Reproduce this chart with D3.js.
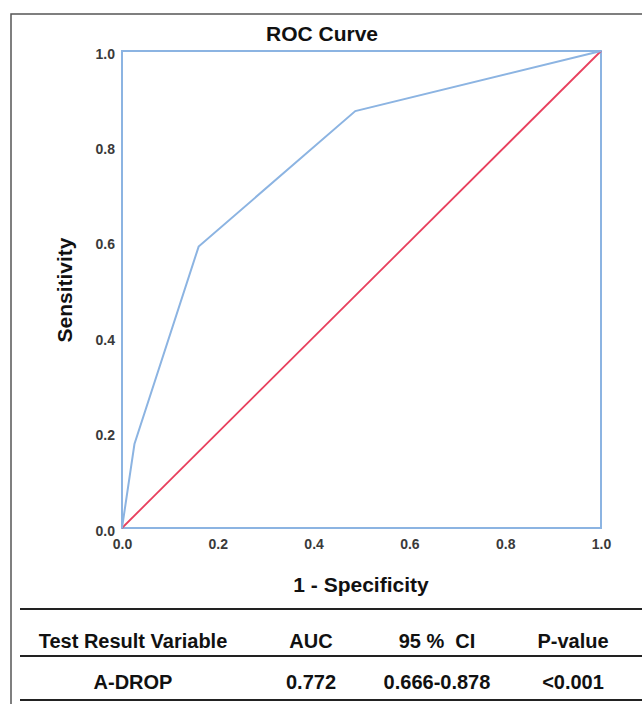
<!DOCTYPE html>
<html><head><meta charset="utf-8">
<script src="https://cdn.jsdelivr.net/npm/d3@7"></script>
<style>body{margin:0;background:#fff;}svg{display:block;font-family:"Liberation Sans",Arial,sans-serif;}</style>
</head><body>
<script>
const rocFPR = [0, 0.026, 0.16, 0.487, 1];
const rocTPR = [0, 0.176, 0.59, 0.874, 1];
const refLine = [0, 1];
const tickValues = [0, 0.2, 0.4, 0.6, 0.8, 1.0];
const tableHeaders = ["Test Result Variable", "AUC", "95 %  CI", "P-value"];
const tableRow = ["A-DROP", "0.772", "0.666-0.878", "<0.001"];

const W = 642, H = 704;
const svg = d3.select("body").append("svg").attr("width", W).attr("height", H);

// outer frame
svg.append("path").attr("d", `M11,${H} L11,14 L${W},14`).attr("fill","none").attr("stroke","#555").attr("stroke-width",1.5);

const x = d3.scaleLinear().domain([0,1]).range([122,601]);
const y = d3.scaleLinear().domain([0,1]).range([528,51]);
const blue = "#8cb4e2";

// frame of plot
svg.append("rect").attr("x",x(0)).attr("y",y(1)).attr("width",x(1)-x(0)).attr("height",y(0)-y(1))
  .attr("fill","none").attr("stroke",blue).attr("stroke-width",2);

// axes (labels only)
const xAxis = d3.axisBottom(x).tickValues(tickValues).tickFormat(d3.format(".1f")).tickSize(0).tickPadding(11);
const gx = svg.append("g").attr("transform",`translate(0,${y(0)})`).call(xAxis);
const yAxis = d3.axisLeft(y).tickValues(tickValues).tickFormat(d3.format(".1f")).tickSize(0).tickPadding(7);
const gy = svg.append("g").attr("transform",`translate(${x(0)},0)`).call(yAxis);
[gx,gy].forEach(g=>{
  g.select(".domain").remove();
  g.selectAll("text").attr("font-size",14).attr("font-weight","bold").attr("fill","#3a3a3a").attr("font-family","'Liberation Sans',Arial,sans-serif");
});
gy.selectAll("text").attr("dy","0.5em");

// reference line
svg.append("path").datum(refLine).attr("d", d3.line().x(d=>x(d)).y(d=>y(d)))
  .attr("fill","none").attr("stroke","#e8405e").attr("stroke-width",1.8);

// ROC curve
const pts = rocFPR.map((f,i)=>[f, rocTPR[i]]);
svg.append("path").datum(pts).attr("d", d3.line().x(d=>x(d[0])).y(d=>y(d[1])))
  .attr("fill","none").attr("stroke",blue).attr("stroke-width",2);

// titles
svg.append("text").attr("x",322).attr("y",41).attr("text-anchor","middle").attr("font-size",21).attr("font-weight","bold").attr("fill","#111").text("ROC Curve");
svg.append("text").attr("transform","translate(72,290) rotate(-90)").attr("text-anchor","middle").attr("font-size",21).attr("font-weight","bold").attr("fill","#111").text("Sensitivity");
svg.append("text").attr("x",361).attr("y",592).attr("text-anchor","middle").attr("font-size",21).attr("font-weight","bold").attr("fill","#111").text("1 - Specificity");

// table
const colX = [133, 311, 437, 573];
[609, 656, 700].forEach(ly=>{
  svg.append("line").attr("x1",20).attr("x2",W).attr("y1",ly).attr("y2",ly).attr("stroke","#222").attr("stroke-width",2);
});
tableHeaders.forEach((t,i)=>{
  svg.append("text").attr("x",colX[i]).attr("y",648).attr("text-anchor","middle").attr("font-size",20).attr("font-weight","bold").attr("fill","#111").attr("xml:space","preserve").style("white-space","pre").text(t);
});
tableRow.forEach((t,i)=>{
  svg.append("text").attr("x",colX[i]).attr("y",689).attr("text-anchor","middle").attr("font-size",20).attr("font-weight","bold").attr("fill","#111").text(t);
});
</script>
</body></html>
